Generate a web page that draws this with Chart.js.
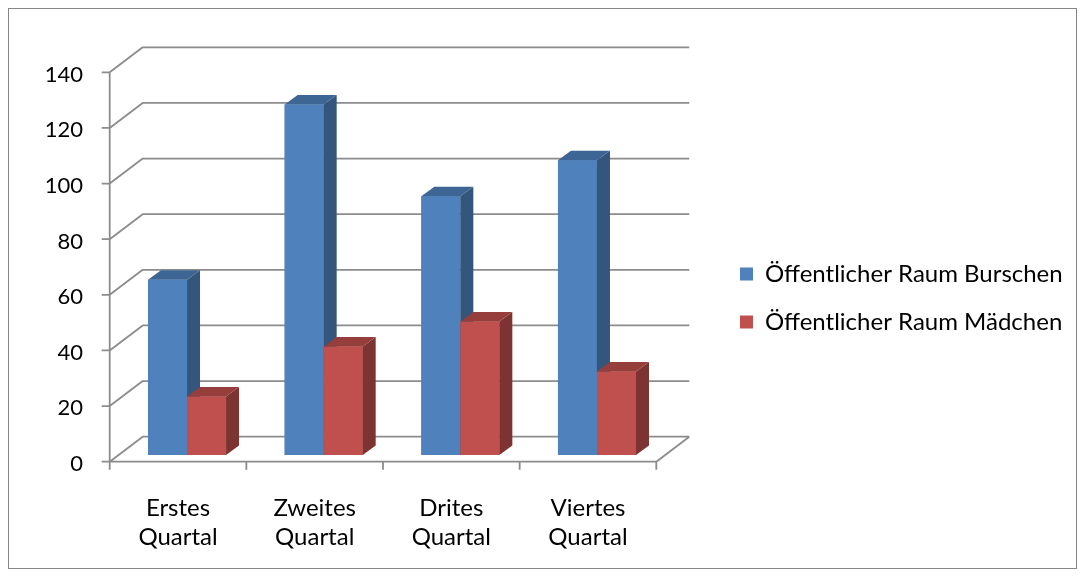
<!DOCTYPE html>
<html>
<head>
<meta charset="utf-8">
<title>Öffentlicher Raum</title>
<script src="https://cdn.jsdelivr.net/npm/chart.js@4.4.1/dist/chart.umd.min.js"></script>
<style>
  html, body { margin: 0; padding: 0; background: #fff; }
  canvas { display: block; }
</style>
</head>
<body>
<canvas id="chart" width="1085" height="577"></canvas>
<script>
// Quarterly counts in public space, boys vs. girls
const quarters = [['Erstes', 'Quartal'], ['Zweites', 'Quartal'], ['Drites', 'Quartal'], ['Viertes', 'Quartal']];
const seriesNames = ['Öffentlicher Raum Burschen', 'Öffentlicher Raum Mädchen'];
const burschen = [63, 126, 93, 106];
const maedchen = [21, 39, 48, 30];
const yTicks = [0, 20, 40, 60, 80, 100, 120, 140];

// Oblique 3D look: the bar plane is the chart area; the front floor edge
// sits slightly in front of it and the back wall further behind.
const DEPTH = {
  frontDx: -9, frontDy: 6.7,   // bar plane -> front edge of the floor
  wallDx: 33, wallDy: -25,     // front edge -> back wall
  colDx: 13, colDy: -9.5       // depth of a single column
};
const LINE = '#8c8c8c';
const FONT = 'Lato';
const TEXT_SIZE = 24;

// Legend geometry: box column starts at a fixed x, so the right padding is
// derived from the widest legend entry.
const LEGEND = { left: 716, pad: 24, box: 13 };
const measure = document.createElement('canvas').getContext('2d');
measure.font = TEXT_SIZE + 'px ' + FONT;
const widest = Math.max(...seriesNames.map(s => measure.measureText(s).width));
const legendWidth = LEGEND.pad + LEGEND.box + TEXT_SIZE / 2 + widest + 10;
const padRight = Math.max(0, 1085 - LEGEND.left - legendWidth);

const box3d = {
  id: 'box3d',
  beforeDraw(chart) {
    const { ctx, width, height } = chart;
    ctx.save();
    ctx.fillStyle = '#ffffff';
    ctx.fillRect(0, 0, width, height);
    ctx.strokeStyle = '#868686';
    ctx.lineWidth = 1;
    ctx.strokeRect(8.5, 8.5, width - 17, height - 17);
    ctx.restore();
  },
  beforeDatasetsDraw(chart) {
    const { ctx, chartArea: ca, scales: { x, y } } = chart;
    const fl = ca.left + DEPTH.frontDx;
    const fr = ca.right + DEPTH.frontDx;
    const f0 = y.getPixelForValue(y.min) + DEPTH.frontDy;
    const fTop = y.getPixelForValue(y.max) + DEPTH.frontDy;
    ctx.save();
    ctx.strokeStyle = LINE;
    ctx.lineWidth = 1.8;
    ctx.lineJoin = 'bevel';
    ctx.beginPath();
    // value ticks, side-wall diagonals and back-wall gridlines
    y.ticks.forEach(t => {
      const fy = y.getPixelForValue(t.value) + DEPTH.frontDy;
      ctx.moveTo(fl - 8, fy);
      ctx.lineTo(fl, fy);
      ctx.lineTo(fl + DEPTH.wallDx, fy + DEPTH.wallDy);
      ctx.lineTo(fr + DEPTH.wallDx, fy + DEPTH.wallDy);
    });
    // front value axis
    ctx.moveTo(fl, fTop);
    ctx.lineTo(fl, f0);
    // floor: front edge and right edge
    ctx.moveTo(fl, f0);
    ctx.lineTo(fr, f0);
    ctx.lineTo(fr + DEPTH.wallDx, f0 + DEPTH.wallDy);
    // category separators on the front edge
    const n = x.ticks.length;
    for (let k = 0; k <= n; k++) {
      const px = fl + k * (fr - fl) / n;
      ctx.moveTo(px, f0);
      ctx.lineTo(px, f0 + 8);
    }
    ctx.stroke();
    ctx.restore();
  },
  afterDatasetsDraw(chart) {
    const ctx = chart.ctx;
    const metas = chart.getSortedVisibleDatasetMetas();
    const n = chart.data.labels.length;
    const dx = DEPTH.colDx, dy = DEPTH.colDy;
    ctx.save();
    for (let i = 0; i < n; i++) {
      metas.forEach(meta => {
        const bar = meta.data[i];
        if (!bar) return;
        const ds = chart.data.datasets[meta.index];
        // repaint the front so it covers the neighbouring column's side face
        bar.draw(ctx);
        const { x, y, base, width } = bar.getProps(['x', 'y', 'base', 'width'], true);
        const l = x - width / 2, r = x + width / 2;
        ctx.fillStyle = ds.sideColor;
        ctx.beginPath();
        ctx.moveTo(r, y);
        ctx.lineTo(r + dx, y + dy);
        ctx.lineTo(r + dx, base + dy);
        ctx.lineTo(r, base);
        ctx.closePath();
        ctx.fill();
        ctx.fillStyle = ds.topColor;
        ctx.beginPath();
        ctx.moveTo(l, y);
        ctx.lineTo(r, y);
        ctx.lineTo(r + dx, y + dy);
        ctx.lineTo(l + dx, y + dy);
        ctx.closePath();
        ctx.fill();
      });
    }
    ctx.restore();
  }
};

Chart.defaults.font.family = FONT;
Chart.defaults.color = '#000';

const hiddenAxis = (fitFn) => ({
  type: 'linear',
  grid: { display: false, drawTicks: false },
  border: { display: false },
  ticks: { display: false },
  afterFit: fitFn
});

new Chart(document.getElementById('chart'), {
  type: 'bar',
  data: {
    labels: quarters,
    datasets: [
      { label: seriesNames[0], data: burschen, backgroundColor: '#4F81BD', sideColor: '#34557c', topColor: '#3e6695' },
      { label: seriesNames[1], data: maedchen, backgroundColor: '#C0504D', sideColor: '#7d3331', topColor: '#963e3c' }
    ]
  },
  options: {
    responsive: false,
    animation: false,
    devicePixelRatio: 1,
    layout: { padding: { left: 0, top: 41, right: padRight, bottom: 22 } },
    datasets: { bar: { categoryPercentage: 0.571, barPercentage: 1, borderWidth: 0 } },
    plugins: {
      legend: {
        position: 'right',
        align: 'center',
        maxWidth: 600,
        labels: { boxWidth: LEGEND.box, boxHeight: LEGEND.box, padding: LEGEND.pad, color: '#000',
                  font: { size: TEXT_SIZE } }
      },
      tooltip: { enabled: false }
    },
    scales: {
      x: {
        grid: { display: false, drawTicks: false },
        border: { display: false },
        ticks: { padding: 38.5, labelOffset: -9, maxRotation: 0, autoSkip: false, color: '#000',
                 font: { size: TEXT_SIZE, lineHeight: '29px' } },
        afterFit: s => { s.height = 100; }
      },
      y: {
        min: yTicks[0],
        max: yTicks[yTicks.length - 1],
        grid: { display: false, drawTicks: false },
        border: { display: false },
        ticks: { padding: 35.7, labelOffset: 9, color: '#000', font: { size: 22 } },
        afterBuildTicks: s => { s.ticks = yTicks.map(v => ({ value: v })); },
        afterFit: s => { s.width = 118.7; }
      },
      gapTop: Object.assign(hiddenAxis(s => { s.height = 24.6; }), { position: 'top' }),
      gapRight: Object.assign(hiddenAxis(s => { s.width = LEGEND.left - 665.3; }), { position: 'right' })
    }
  },
  plugins: [box3d]
});
</script>
</body>
</html>
